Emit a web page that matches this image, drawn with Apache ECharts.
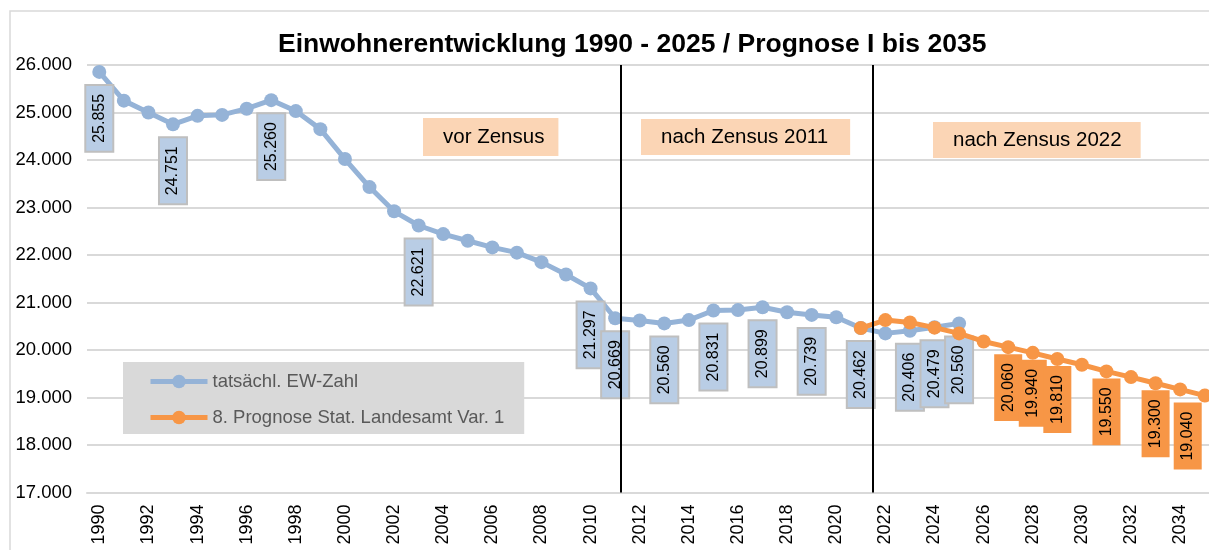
<!DOCTYPE html>
<html>
<head>
<meta charset="UTF-8">
<title>Einwohnerentwicklung</title>
<script type="text/javascript" src="https://cdn.jsdelivr.net/npm/echarts@6/dist/echarts.min.js"></script>
</head>
<body style="margin:0">

<div id="box" style="width:1209px;height:550px;"></div>

<script type="text/javascript">

// Jahre 1990 - 2035
var jahre = [];
for (var j = 1990; j <= 2035; j++) jahre.push(String(j));

// tatsaechliche Einwohnerzahl 1990 - 2025
var ewZahl = [25855, 25250, 25000, 24751, 24930, 24950, 25080, 25260, 25030, 24650,
              24020, 23430, 22920, 22621, 22440, 22300, 22160, 22050, 21850, 21590,
              21297, 20669, 20620, 20560, 20630, 20831, 20840, 20899, 20795, 20739,
              20690, 20462, 20350, 20406, 20479, 20560];

// 8. Prognose Stat. Landesamt Var. 1, 2021 - 2035
var prognoseStart = '2021';
var prognose = [20462, 20630, 20580, 20470, 20350, 20180, 20060, 19940, 19810, 19690,
                19550, 19430, 19300, 19170, 19040];

// Jahre mit Datenbeschriftung
var ewBeschriftet = ['1990', '1993', '1997', '2003', '2010', '2011', '2013', '2015',
                     '2017', '2019', '2021', '2023', '2024', '2025'];
var prognoseBeschriftet = ['2027', '2028', '2029', '2031', '2033', '2035'];

// Zensus-Trennlinien
var zensusLinien = [2011.23, 2021.5];

// Beschriftungen der Abschnitte
var abschnitte = ['vor Zensus', 'nach Zensus 2011', 'nach Zensus 2022'];

var schrift = "'Liberation Sans', Arial, sans-serif";

function fmt(v) {
  return (v / 1000).toFixed(3);
}

var blueLabel = {
  show: true, position: 'bottom', distance: 7, rotate: 90,
  align: 'right', verticalAlign: 'middle',
  formatter: function (p) { return fmt(p.value); },
  fontFamily: schrift, fontSize: 16, lineHeight: 18, color: '#000',
  backgroundColor: '#b9cde5', borderColor: '#bfbfbf', borderWidth: 2,
  padding: [4, 8, 4, 8]
};
var orangeLabel = {
  show: true, position: 'bottom', distance: 0, rotate: 90,
  align: 'right', verticalAlign: 'middle',
  formatter: function (p) { return fmt(p.value); },
  fontFamily: schrift, fontSize: 16, lineHeight: 18, color: '#000',
  backgroundColor: '#f79646',
  padding: [5, 9, 5, 9]
};

var ewDaten = ewZahl.map(function (v, i) {
  var item = { value: v };
  if (ewBeschriftet.indexOf(jahre[i]) >= 0) item.label = blueLabel;
  return item;
});

var offset = jahre.indexOf(prognoseStart);
var prognoseDaten = jahre.map(function (jahr, i) {
  var k = i - offset;
  if (k < 0) return null;
  var item = { value: prognose[k] };
  if (prognoseBeschriftet.indexOf(jahr) >= 0) {
    item.label = orangeLabel;
    if (jahr === '2035') item.label = Object.assign({}, orangeLabel, { offset: [0, -17] });
  }
  return item;
});

var mychart = echarts.init(document.getElementById('box'));

var option = {
  animation: false,
  backgroundColor: '#fff',
  title: {
    text: 'Einwohnerentwicklung 1990 - 2025 / Prognose I bis 2035',
    left: 278, top: 31, padding: 0,
    textStyle: { fontFamily: schrift, fontSize: 26.5, fontWeight: 'bold', color: '#000' }
  },
  legend: {
    orient: 'vertical', left: 123, top: 362,
    backgroundColor: '#d9d9d9',
    padding: [10, 20, 7, 25],
    itemGap: 17, itemWidth: 57, itemHeight: 17,
    lineStyle: { width: 5 },
    textStyle: { fontFamily: schrift, fontSize: 18.5, color: '#595959' },
    data: ['tatsächl. EW-Zahl', '8. Prognose Stat. Landesamt Var. 1']
  },
  grid: { left: 87, top: 65, width: 1130, height: 427.5, outerBoundsMode: 'none' },
  xAxis: [{
    type: 'category',
    data: jahre,
    boundaryGap: true,
    axisTick: { show: false },
    axisLine: { lineStyle: { color: '#d9d9d9', width: 2 } },
    axisLabel: { interval: 1, rotate: 90, margin: 12, fontFamily: schrift, fontSize: 18, color: '#000' }
  }, {
    type: 'value', min: 1989.5, max: 2035.5, show: false
  }],
  yAxis: {
    type: 'value', min: 17000, max: 26000, interval: 1000,
    axisLine: { show: false }, axisTick: { show: false },
    splitLine: { lineStyle: { color: '#d9d9d9', width: 2 } },
    axisLabel: { margin: 15, fontFamily: schrift, fontSize: 18.5, color: '#000', formatter: fmt }
  },
  series: [{
    name: 'tatsächl. EW-Zahl',
    type: 'line',
    data: ewDaten,
    symbol: 'circle', symbolSize: 14,
    itemStyle: { color: '#95b3d7' },
    lineStyle: { color: '#95b3d7', width: 5 },
    z: 2
  }, {
    name: '8. Prognose Stat. Landesamt Var. 1',
    type: 'line',
    data: prognoseDaten,
    symbol: 'circle', symbolSize: 14,
    itemStyle: { color: '#f79646' },
    lineStyle: { color: '#f79646', width: 5 },
    z: 3
  }, {
    name: 'Zensus',
    type: 'line',
    xAxisIndex: 1,
    data: [],
    silent: true,
    markLine: {
      symbol: 'none', silent: true,
      label: { show: false },
      lineStyle: { color: '#000', width: 2, type: 'solid' },
      data: zensusLinien.map(function (x) { return { xAxis: x }; })
    },
    z: 1
  }],
  graphic: [{
    type: 'rect', z: -1, silent: true,
    shape: { x: 10, y: 11, width: 1300, height: 700 },
    style: { fill: 'none', stroke: '#d9d9d9', lineWidth: 1.5 }
  }, {
    type: 'text', left: 423, top: 118,
    style: { text: abschnitte[0], font: '20.5px ' + schrift, fill: '#000',
             backgroundColor: '#fbd5b5', padding: [9, 14, 8, 20] }
  }, {
    type: 'text', left: 641, top: 119,
    style: { text: abschnitte[1], font: '20.5px ' + schrift, fill: '#000',
             backgroundColor: '#fbd5b5', padding: [8, 22, 7, 20] }
  }, {
    type: 'text', left: 933, top: 122,
    style: { text: abschnitte[2], font: '20.5px ' + schrift, fill: '#000',
             backgroundColor: '#fbd5b5', padding: [8, 19, 7, 20] }
  }]
};

mychart.setOption(option);
</script>
</body>
</html>
